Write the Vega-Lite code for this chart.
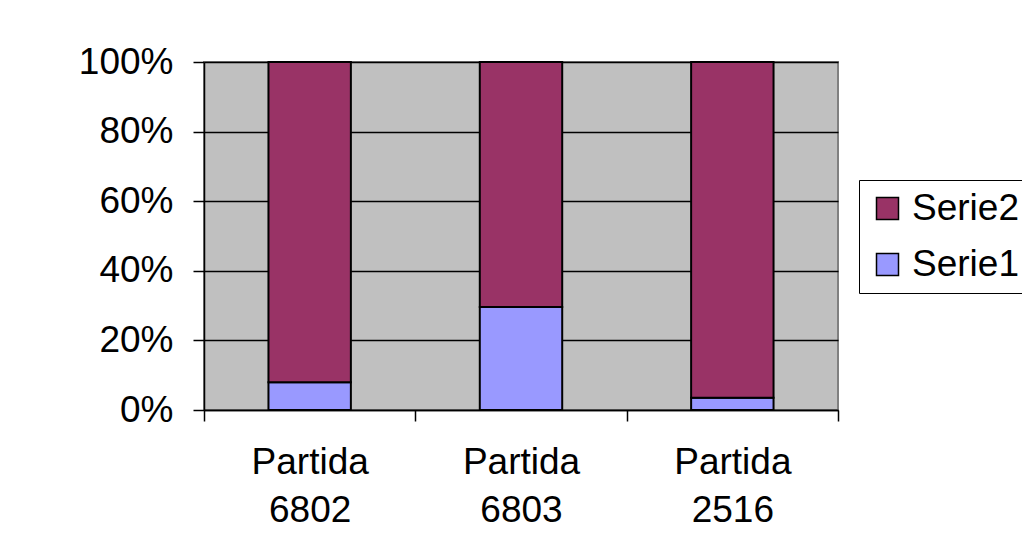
{
  "$schema": "https://vega.github.io/schema/vega-lite/v6.json",
  "width": 634,
  "height": 348,
  "autosize": {"type": "none"},
  "padding": {"left": 204, "top": 62, "right": 184, "bottom": 148},
  "background": "white",
  "config": {
    "font": "Liberation Sans",
    "view": {"fill": "#C0C0C0", "stroke": "#808080", "strokeWidth": 2}
  },
  "data": {
    "values": [
      {"partida": "Partida 6802", "serie": "Serie1", "valor": 8},
      {"partida": "Partida 6802", "serie": "Serie2", "valor": 92},
      {"partida": "Partida 6803", "serie": "Serie1", "valor": 29.6},
      {"partida": "Partida 6803", "serie": "Serie2", "valor": 70.4},
      {"partida": "Partida 2516", "serie": "Serie1", "valor": 3.5},
      {"partida": "Partida 2516", "serie": "Serie2", "valor": 96.5}
    ]
  },
  "mark": {"type": "bar", "width": {"band": 0.39}, "stroke": "black", "strokeWidth": 2},
  "encoding": {
    "x": {
      "field": "partida",
      "type": "nominal",
      "sort": null,
      "scale": {"paddingInner": 0, "paddingOuter": 0},
      "axis": {
        "title": null,
        "labelAngle": 0,
        "tickBand": "extent",
        "labelExpr": "split(datum.label, ' ')",
        "labelFontSize": 37,
        "labelLineHeight": 48,
        "labelColor": "black",
        "labelPadding": 23,
        "tickSize": 11,
        "tickColor": "black",
        "tickWidth": 1.5,
        "domainColor": "black",
        "domainWidth": 1.5
      }
    },
    "y": {
      "field": "valor",
      "type": "quantitative",
      "stack": "normalize",
      "scale": {"domain": [0, 1]},
      "axis": {
        "title": null,
        "format": ".0%",
        "values": [0, 0.2, 0.4, 0.6, 0.8, 1],
        "grid": true,
        "gridColor": "black",
        "gridOpacity": 1,
        "gridWidth": 1.5,
        "labelFontSize": 37,
        "labelColor": "black",
        "labelPadding": 20,
        "tickSize": 11,
        "tickColor": "black",
        "tickWidth": 1.5,
        "domainColor": "black",
        "domainWidth": 1.5
      }
    },
    "color": {
      "field": "serie",
      "type": "nominal",
      "scale": {"domain": ["Serie2", "Serie1"], "range": ["#993366", "#9999FF"]},
      "legend": {
        "title": null,
        "orient": "none",
        "legendX": 655,
        "legendY": 118,
        "padding": 10,
        "fillColor": "white",
        "strokeColor": "black",
        "symbolType": "square",
        "symbolSize": 484,
        "symbolStrokeColor": "black",
        "symbolStrokeWidth": 1.5,
        "symbolOpacity": 1,
        "labelFontSize": 37,
        "labelColor": "black",
        "labelOffset": 6,
        "rowPadding": 18,
        "labelLimit": 300
      }
    },
    "order": {"field": "serie", "sort": "ascending"}
  }
}
